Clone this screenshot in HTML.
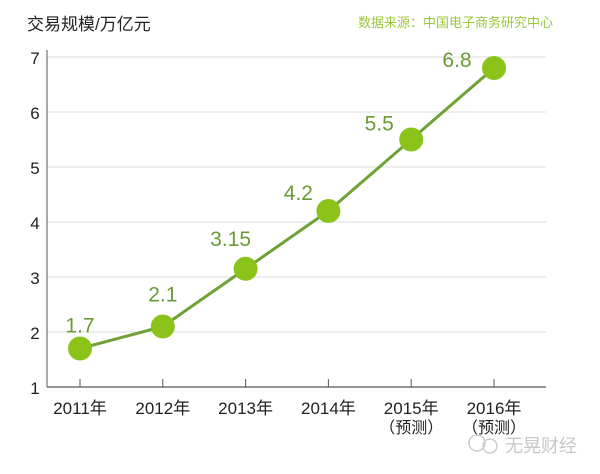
<!DOCTYPE html>
<html><head><meta charset="utf-8"><style>
body{margin:0;background:#fff;width:600px;height:474px;overflow:hidden}
svg{display:block;font-family:"Liberation Sans","Noto Sans CJK SC",sans-serif}
</style></head><body>
<svg id="c" width="600" height="474">
<text x="27" y="30" font-size="17" fill="#222">交易规模/万亿元</text>
<text x="553" y="27" font-size="13" fill="#9cc83a" text-anchor="end">数据来源：中国电子商务研究中心</text>
<g id="grid"></g><g id="ax"></g><g id="marks"></g>
<g>
<circle cx="477" cy="443" r="8" fill="none" stroke="#ccc" stroke-width="1.5"/>
<circle cx="490" cy="446" r="7" fill="none" stroke="#ccc" stroke-width="1.5"/>
<text x="505" y="452" font-size="18" fill="#c8c8c8">无晃财经</text></g>
</svg>
<script>
const categories=["2011年","2012年","2013年","2014年","2015年","2016年"];
const subLabels=["","","","","（预测）","（预测）"];
const values=[1.7,2.1,3.15,4.2,5.5,6.8];
const valueLabels=["1.7","2.1","3.15","4.2","5.5","6.8"];
const yTicks=[1,2,3,4,5,6,7];
const NS="http://www.w3.org/2000/svg";
const x0=47,x1=546,y0=387;
const xs=i=>80+i*82.8;
const ys=v=>y0-(v-1)*55;
function mk(t,a,p){const e=document.createElementNS(NS,t);for(const k in a)e.setAttribute(k,a[k]);p.appendChild(e);return e;}
const grid=document.getElementById('grid'),ax=document.getElementById('ax'),marks=document.getElementById('marks');
yTicks.forEach(v=>{
 if(v>1){const g=mk('line',{x1:x0,x2:x1,y1:ys(v),y2:ys(v),stroke:'#ddd','stroke-width':1},grid);
 
 }
 const t=mk('text',{x:35,y:ys(v)+7,'font-size':17,fill:'#222','text-anchor':'middle'},ax);t.textContent=v;
 
 
});
const ya=mk('line',{x1:x0,x2:x0,y1:50,y2:y0,stroke:'#555','stroke-width':1},ax);


const xa=mk('line',{x1:x0,x2:x1,y1:y0,y2:y0,stroke:'#555','stroke-width':1.2},ax);


categories.forEach((c,i)=>{
 mk('line',{x1:xs(i),x2:xs(i),y1:y0-8,y2:y0,stroke:'#555'},ax);
 const t=mk('text',{x:xs(i),y:414,'font-size':17,fill:'#222','text-anchor':'middle'},ax);t.textContent=c;
 
 
 if(subLabels[i]){const s=mk('text',{x:xs(i),y:433,'font-size':16,fill:'#222','text-anchor':'middle'},ax);s.textContent=subLabels[i];
 
 }
});
const pl=mk('polyline',{points:values.map((v,i)=>xs(i)+','+ys(v)).join(' '),fill:'none',stroke:'#6ea236','stroke-width':3},marks);


const off=[[0,-16],[0,-25],[-15,-23],[-30,-11],[-32,-9],[-37,-1]];
values.forEach((v,i)=>{
 const c=mk('circle',{cx:xs(i),cy:ys(v),r:12,fill:'#8cc31a'},marks);
 
 
 const t=mk('text',{x:xs(i)+off[i][0],y:ys(v)+off[i][1],'font-size':21,fill:'#6b9a35','text-anchor':'middle'},marks);t.textContent=valueLabels[i];
 
 
});
</script>
</body></html>
